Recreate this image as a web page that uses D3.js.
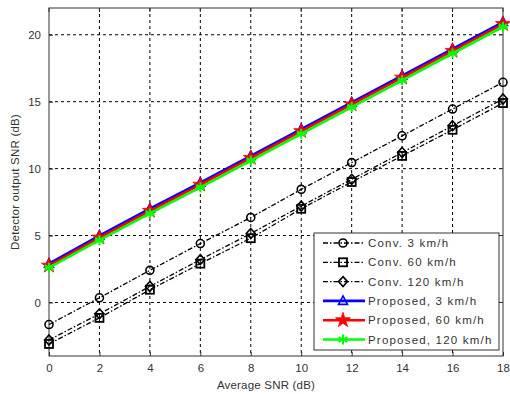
<!DOCTYPE html>
<html><head><meta charset="utf-8">
<script src="https://cdn.jsdelivr.net/npm/d3@7"></script>
<style>body{margin:0;background:#fff}svg{display:block}text{font-family:"Liberation Sans",Arial,sans-serif;fill:#333}</style>
</head><body><svg id="c" width="510" height="394"></svg>
<script>
const snr = [0,2,4,6,8,10,12,14,16,18];
const conv3 = [-1.65,0.35,2.4,4.4,6.35,8.45,10.45,12.45,14.45,16.45];
const conv60 = [-3.1,-1.15,0.95,2.9,4.8,7.0,9.0,10.95,12.9,14.9];
const conv120 = [-2.8,-0.85,1.2,3.2,5.15,7.2,9.2,11.2,13.2,15.2];
const prop3 = [2.9,5.0,7.0,8.95,10.95,12.95,14.95,16.95,18.95,20.95];
const prop60 = [2.75,4.85,6.85,8.8,10.8,12.8,14.8,16.8,18.8,20.8];
const prop120 = [2.6,4.65,6.65,8.6,10.6,12.6,14.6,16.6,18.6,20.6];
const xTicks = [0,2,4,6,8,10,12,14,16,18];
const yTicks = [0,5,10,15,20];
const labels = ["Conv. 3 km/h","Conv. 60 km/h","Conv. 120 km/h","Proposed, 3 km/h","Proposed, 60 km/h","Proposed, 120 km/h"];

const series = [
 {name:labels[0], v:conv3, color:"#000", marker:"circle", dash:"5,2,1.5,2", w:1.3},
 {name:labels[1], v:conv60, color:"#000", marker:"square", dash:"5,2,1.5,2", w:1.3},
 {name:labels[2], v:conv120, color:"#000", marker:"diamond", dash:"5,2,1.5,2", w:1.3},
 {name:labels[3], v:prop3, color:"#0000ff", marker:"triangle", dash:null, w:2.6},
 {name:labels[4], v:prop60, color:"#ff0000", marker:"star", dash:null, w:2.6},
 {name:labels[5], v:prop120, color:"#00ff00", marker:"asterisk", dash:null, w:2.6}
];

const svg = d3.select("#c");
const L=49, R=503, T=8, B=356;
const x = d3.scaleLinear().domain([0,18]).range([L,R]);
const y = d3.scaleLinear().domain([-4,22]).range([B,T]);

const g = svg.append("g");
g.selectAll(".gx").data(xTicks.slice(1,-1)).join("line")
 .attr("x1",d=>x(d)).attr("x2",d=>x(d)).attr("y1",T).attr("y2",B)
 .attr("stroke","#000").attr("stroke-dasharray","3,3").attr("stroke-width",1);
g.selectAll(".gy").data(yTicks).join("line")
 .attr("y1",d=>y(d)).attr("y2",d=>y(d)).attr("x1",L).attr("x2",R)
 .attr("stroke","#000").attr("stroke-dasharray","3,3").attr("stroke-width",1);

const xa = svg.append("g").attr("transform",`translate(0,${B})`)
 .call(d3.axisBottom(x).tickValues(xTicks).tickSize(-4).tickPadding(8).tickFormat(d3.format("d")));
const ya = svg.append("g").attr("transform",`translate(${L},0)`)
 .call(d3.axisLeft(y).tickValues(yTicks).tickSize(-4).tickPadding(8).tickFormat(d3.format("d")));
[xa,ya].forEach(a=>{a.select(".domain").remove();a.selectAll("line").attr("stroke","#333");
 a.selectAll("text").style("font-size","11.5px").attr("fill","#333").style("font-family","'Liberation Sans',Arial,sans-serif");});
svg.append("g").selectAll("line").data(xTicks).join("line").attr("x1",d=>x(d)).attr("x2",d=>x(d)).attr("y1",T).attr("y2",T+4).attr("stroke","#333");
svg.append("g").selectAll("line").data(yTicks).join("line").attr("x1",R).attr("x2",R-4).attr("y1",d=>y(d)).attr("y2",d=>y(d)).attr("stroke","#333");
svg.append("rect").attr("x",L).attr("y",T).attr("width",R-L).attr("height",B-T).attr("fill","none").attr("stroke","#333").attr("stroke-width",1);

function drawMarker(sel, type, color, cx, cy){
  const gg = sel.append("g").attr("transform",`translate(${cx},${cy})`);
  if(type==="circle") gg.append("circle").attr("r",4).attr("fill","none").attr("stroke",color).attr("stroke-width",1.6);
  else if(type==="square") gg.append("rect").attr("x",-4).attr("y",-4).attr("width",8).attr("height",8).attr("fill","none").attr("stroke",color).attr("stroke-width",1.8);
  else if(type==="diamond") gg.append("path").attr("d","M0,-5L4.5,0L0,5L-4.5,0Z").attr("fill","none").attr("stroke",color).attr("stroke-width",1.6);
  else if(type==="triangle") gg.append("path").attr("d","M0,-5L4.5,3.5L-4.5,3.5Z").attr("fill","none").attr("stroke",color).attr("stroke-width",1.6);
  else if(type==="star") gg.append("path").attr("d",d3.symbol(d3.symbolStar,70)()).attr("fill",color).attr("stroke",color).attr("stroke-width",0.8);
  else if(type==="asterisk"){
    [0,60,120].forEach(a=>gg.append("line").attr("x1",0).attr("y1",-5).attr("x2",0).attr("y2",5).attr("transform",`rotate(${a})`).attr("stroke",color).attr("stroke-width",2));
    gg.append("line").attr("x1",-4.5).attr("x2",4.5).attr("y1",0).attr("y2",0).attr("stroke",color).attr("stroke-width",2);
  }
}

const line = d3.line().x((d,i)=>x(snr[i])).y(d=>y(d));
series.forEach(s=>{
  const p = svg.append("path").datum(s.v).attr("d",line).attr("fill","none")
    .attr("stroke",s.color).attr("stroke-width",s.w);
  if(s.dash) p.attr("stroke-dasharray",s.dash);
  const mg = svg.append("g");
  s.v.forEach((v,i)=>drawMarker(mg,s.marker,s.color,x(snr[i]),y(v)));
});

svg.append("text").attr("x",266).attr("y",389).attr("text-anchor","middle").style("font-size","11.5px").style("letter-spacing","0.2px").text("Average SNR (dB)");
svg.append("text").attr("transform","translate(19,182) rotate(-90)").attr("text-anchor","middle").style("font-size","11.5px").style("letter-spacing","0.2px").text("Detector output SNR (dB)");

const lg = svg.append("g");
lg.append("rect").attr("x",314).attr("y",233).attr("width",185).attr("height",117).attr("fill","#fff").attr("stroke","#333").attr("stroke-width",1);
series.forEach((s,i)=>{
  const yy = 243 + i*19.3;
  const l = lg.append("line").attr("x1",323).attr("x2",365).attr("y1",yy).attr("y2",yy).attr("stroke",s.color).attr("stroke-width",s.w);
  if(s.dash) l.attr("stroke-dasharray",s.dash);
  drawMarker(lg,s.marker,s.color,343,yy);
  lg.append("text").attr("x",368).attr("y",yy+4).style("font-size","11.5px").style("letter-spacing","1.2px").text(s.name);
});
</script></body></html>
